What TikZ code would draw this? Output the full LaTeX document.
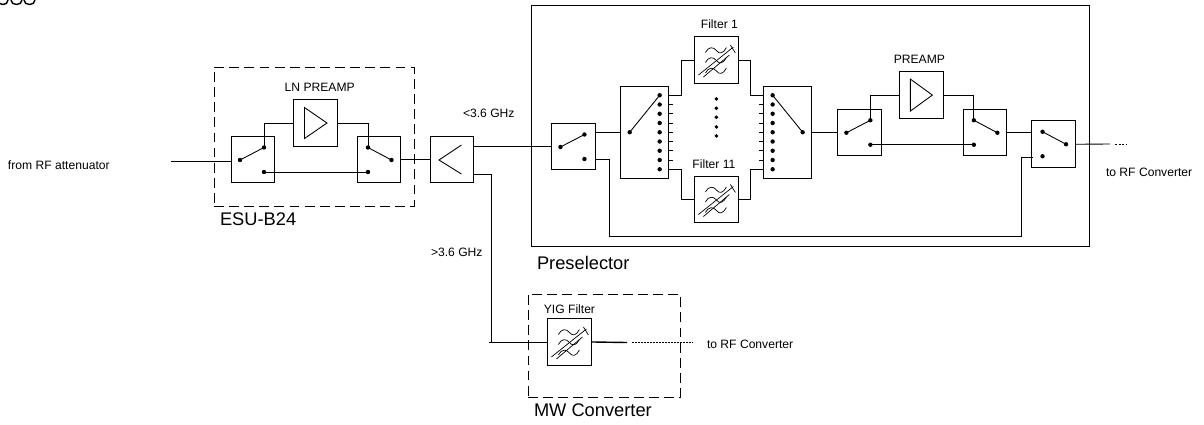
\documentclass[tikz,border=0pt]{standalone}
\usepackage{fontspec}
\setmainfont{Liberation Sans}
\usetikzlibrary{positioning,calc}

\begin{document}
\begin{tikzpicture}[
	x=0.02cm, y=-0.02cm,
	line width=0.5pt,
	font=\fontsize{6.9}{8}\selectfont,
	switchbox/.style={draw, minimum width=8.7mm, minimum height=9.3mm, inner sep=0pt, outer sep=0pt},
	bigswitch/.style={draw, minimum width=9.6mm, minimum height=18.4mm, inner sep=0pt, outer sep=0pt},
	frame/.style={draw, dash pattern=on 5.6pt off 3pt, inner sep=0pt, outer sep=0pt},
	contact/.style={circle, fill, inner sep=0pt, minimum size=2.5pt},
	tag/.style={inner sep=0pt, outer sep=0pt},
	biglabel/.style={inner sep=0pt, outer sep=0pt, font=\fontsize{10.4}{12}\selectfont},
	filtersym/.pic={
		\foreach \dy in {-9.5,0.5,11}
			\draw[line width=0.4pt, shift={(0,\dy)}] (-11,2) .. controls (-8,-4) and (-3,-4) .. (0,0) .. controls (3,4) and (7,3) .. (10,-3);
		\draw[line width=0.4pt] (-18,15) -- (17,-13);
		\draw[line width=0.4pt] (-13,17) -- (13,-5);
		\draw[line width=0.4pt] (14,-15) -- (19,-7);
	},
]
\useasboundingbox (0,0) rectangle (1204,424);

\node[switchbox] (swA) at (253,159.5) {};
\node[switchbox, above right=-2mm and 3.8mm of swA] (lnamp) {};
\node[switchbox, below right=-2mm and 4mm of lnamp] (swB) {};
\node[switchbox, right=5.9mm of swB] (split) {};
\node[switchbox, above right=-6.7mm and 15.6mm of split] (swC) {};
\node[bigswitch, above right=-11mm and 5.1mm of swC] (bigA) {};
\node[switchbox, above right=0.6mm and 5.2mm of bigA] (filterA) {};
\node[switchbox, below=18.6mm of filterA] (filterB) {};
\node[bigswitch, below right=0.6mm and 5.1mm of filterA] (bigB) {};
\node[switchbox, right=5.2mm of bigB] (swD) {};
\node[switchbox, above right=-1.86mm and 3.7mm of swD] (preamp) {};
\node[switchbox, below right=-1.86mm and 4mm of preamp] (swE) {};
\node[switchbox, below right=-7mm and 5.04mm of swE] (swF) {};
\node[switchbox, below right=27.2mm and 14.8mm of split] (yig) {};

\node[frame, minimum width=40mm, minimum height=27.8mm] (esu) at (314,136.5) {};
\node[frame, solid, minimum width=111.6mm, minimum height=48.2mm] (presel) at (810,125.5) {};
\node[frame, minimum width=30.4mm, minimum height=20.6mm] (mw) at (604,345.5) {};

\node[biglabel, below right=1.4mm and 1.2mm of esu.south west] (esulabel) {ESU-B24};
\node[biglabel, below right=2.1mm and 1.2mm of presel.south west] (presellabel) {Preselector};
\node[biglabel, below right=1.3mm and 1.2mm of mw.south west] (mwlabel) {MW Converter};

\node[tag, above=1.6mm of lnamp, xshift=0.85mm] (lnlabel) {LN PREAMP};
\node[tag, above=1.6mm of preamp, xshift=-0.4mm] (prelabel) {PREAMP};
\node[tag, above=1.6mm of filterA, xshift=0.6mm] (filterAlabel) {Filter 1};
\node[tag, above=1.6mm of filterB, xshift=-0.5mm] (filterBlabel) {Filter 11};
\node[tag, above=1.1mm of yig] (yiglabel) {YIG Filter};
\node[tag, anchor=west] (fromlabel) at (8,165) {from RF attenuator};
\node[tag, anchor=west] (lowlabel) at (463,113) {<3.6 GHz};
\node[tag, anchor=west] (highlabel) at (431,252) {>3.6 GHz};
\node[tag, anchor=west] (toAlabel) at (1106,172) {to RF Converter};
\node[tag, anchor=west] (toBlabel) at (707,344) {to RF Converter};

\pic at (filterA.center) {filtersym};
\pic at (filterB.center) {filtersym};
\pic at (yig.center) {filtersym};

% switch contacts
\foreach \sw in {swA,swC,swD} {
	\coordinate (\sw-c) at ([shift={(-13,0.5)}]\sw.center);
	\coordinate (\sw-up) at ([shift={(11,-12)}]\sw.center);
	\coordinate (\sw-dn) at ([shift={(11,12.5)}]\sw.center);
}
\foreach \sw in {swB,swE,swF} {
	\coordinate (\sw-c) at ([shift={(12.5,0.5)}]\sw.center);
	\coordinate (\sw-up) at ([shift={(-11,-12)}]\sw.center);
	\coordinate (\sw-dn) at ([shift={(-11,12.5)}]\sw.center);
}
\foreach \sw in {swA,swB,swC,swD,swE,swF} {
	\node[contact] at (\sw-c) {};
	\node[contact] at (\sw-up) {};
	\node[contact] at (\sw-dn) {};
	\draw (\sw-c) -- (\sw-up);
}

\coordinate (bigA-c) at ([shift={(-15,0)}]bigA.center);
\coordinate (bigB-c) at ([shift={(15,0)}]bigB.center);
\foreach \i in {0,...,8} {
	\coordinate (bigA-\i) at ([shift={(15,-37+9.25*\i)}]bigA.center);
	\coordinate (bigB-\i) at ([shift={(-15,-37+9.25*\i)}]bigB.center);
	\node[contact] at (bigA-\i) {};
	\node[contact] at (bigB-\i) {};
}
\foreach \i in {1,...,7} {
	\draw (bigA.east |- bigA-\i) -- ++(4,0);
	\draw (bigB.west |- bigB-\i) -- ++(-5,0);
}
\node[contact] at (bigA-c) {};
\node[contact] at (bigB-c) {};
\draw (bigA-c) -- (bigA-0);
\draw (bigB-c) -- (bigB-0);

\foreach \dy in {-33.3,-24,-15,-5.3,3.7}
	\node[contact, minimum size=2.2pt] at ([shift={(0,\dy)}]filterA.center |- bigA.center) {};

% amplifier and splitter symbols
\draw ([shift={(-11,-15.5)}]lnamp.center) -- ([shift={(11.5,0)}]lnamp.center) -- ([shift={(-11,15.5)}]lnamp.center) -- cycle;
\draw ([shift={(-11,-16)}]preamp.center) -- ([shift={(11,0)}]preamp.center) -- ([shift={(-11,16)}]preamp.center) -- cycle;
\draw ([shift={(9.5,-14.5)}]split.center) -- ([shift={(-13,0.5)}]split.center) -- ([shift={(9.5,14.5)}]split.center);

% signal path
\coordinate (rfin) at (171,161.5);
\coordinate (splitup) at (split.east |- swC.west);
\coordinate (splitdn) at ([yshift=-2.9mm]split.east);
\coordinate (yigtap) at (491,342);
\coordinate (bypass) at (609,236);
\coordinate (rfoutA) at (1110,144);
\coordinate (dotsA) at (1115,144);
\coordinate (dotsAend) at (1127,144);
\coordinate (yigout) at (627,342.5);
\coordinate (dotsB) at (632,342.5);
\coordinate (dotsBend) at (693,342.5);

\draw (rfin) -- (rfin -| swA.west);
\draw (swA-up) |- (lnamp.west);
\draw (lnamp.east) -| (swB-up);
\draw (swA-dn) -- (swB-dn);
\draw (swB.east) -- (split.west);
\draw (splitup) -- (swC.west);
\draw (splitdn) -| (yigtap);
\draw (yig.west) -- ++(-59,0);
\draw (swC.east |- bigA.west) -- (bigA.west);
\draw (swC.east |- swC-dn) -| (bypass) -| (1021,157.7) -- (1032.7,157.7);
\draw (bigA.east |- bigA-0) -- ++(13,0) |- (filterA.west);
\draw (bigA.east |- bigA-8) -- ++(13,0) |- (filterB.west);
\draw (filterA.east) -- ++(12.5,0) |- (bigB.west |- bigB-0);
\draw (filterB.east) -- ++(12.5,0) |- (bigB.west |- bigB-8);
\draw (bigB.east) -- (swD.west);
\draw (swD-up) |- (preamp.west);
\draw (preamp.east) -| (swE-up);
\draw (swD-dn) -- (swE-dn);
\draw (swE.east) -- (swF.west |- swE.east);
\draw (swF.east |- swF-c) -- (rfoutA);
\draw[dash pattern=on 1.2pt off 0.8pt, line width=0.4pt] (dotsA) -- (dotsAend);
\draw[line width=0.8pt] (yig.east) -- (yigout);
\draw[dash pattern=on 1pt off 0.7pt] (dotsB) -- (dotsBend);

% cut text at the top edge
\foreach \xa/\xb in {-2/8,11/22,24/35}
	\draw[line width=0.8pt] (\xa,0) .. controls (\xa,6) and (\xb,6) .. (\xb,0);

\end{tikzpicture}
\end{document}
